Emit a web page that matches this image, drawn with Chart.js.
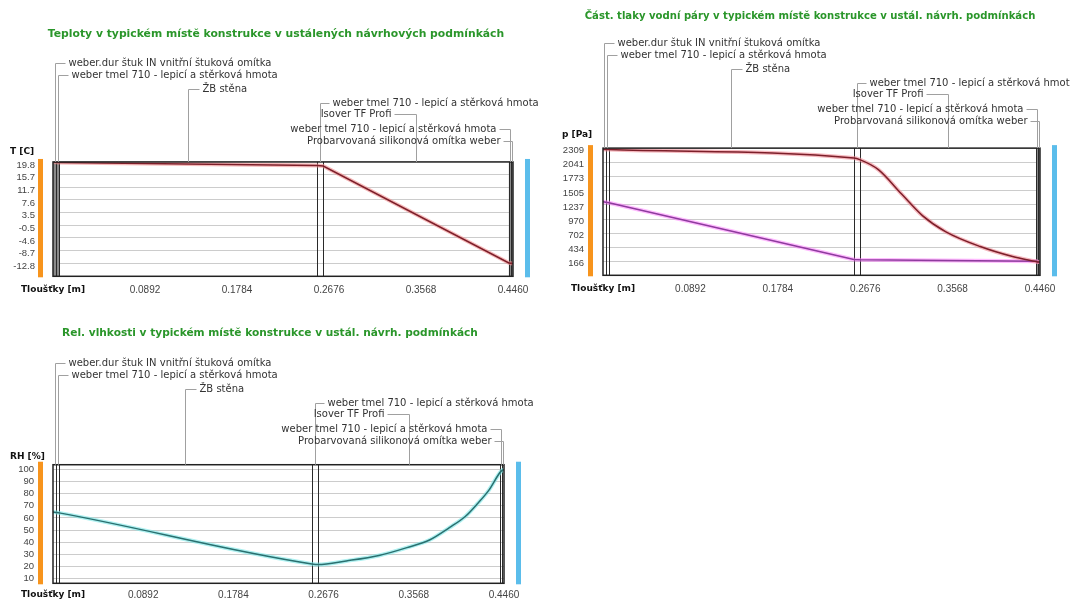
<!DOCTYPE html>
<html><head><meta charset="utf-8">
<script src="https://cdn.jsdelivr.net/npm/chart.js@4/dist/chart.umd.min.js"></script>
<style>
body{margin:0;background:#fff;width:1070px;height:608px;position:relative;overflow:hidden}
.box{position:absolute}
</style></head><body>
<div class="box" style="left:0;top:0"><canvas id="c1" width="540" height="300"></canvas></div>
<div class="box" style="left:540px;top:0"><canvas id="c2" width="530" height="300"></canvas></div>
<div class="box" style="left:0;top:300px"><canvas id="c3" width="540" height="308"></canvas></div>
<script>
// ---------- data ----------
const layerNames = ['weber.dur štuk IN vnitřní štuková omítka','weber tmel 710 - lepicí a stěrková hmota','ŽB stěna','weber tmel 710 - lepicí a stěrková hmota','Isover TF Profi','weber tmel 710 - lepicí a stěrková hmota','Probarvovaná silikonová omítka weber'];
const layerThickness = [0.003, 0.003, 0.25, 0.006, 0.18, 0.002, 0.002];
const xTickValues = [0, 0.0892, 0.1784, 0.2676, 0.3568, 0.4460];
const xTickLabels = ['Tloušťky [m]','0.0892','0.1784','0.2676','0.3568','0.4460'];

const tempTickLabels = ['19.8','15.7','11.7','7.6','3.5','-0.5','-4.6','-8.7','-12.8'];
const tempX = [0, 0.003, 0.006, 0.256, 0.262, 0.442, 0.444, 0.446];
const tempY = [19.8, 19.7, 19.6, 18.7, 18.5, -12.6, -12.7, -12.8];

const presTickLabels = ['2309','2041','1773','1505','1237','970','702','434','166'];
const psatX = [0, 0.003, 0.006, 0.256, 0.262, 0.281, 0.305, 0.326, 0.350, 0.385, 0.418, 0.442, 0.444, 0.446];
const psatY = [2300, 2296, 2292, 2130, 2100, 1910, 1440, 1035, 725, 445, 255, 160, 152, 148];
const pX = [0, 0.003, 0.006, 0.256, 0.262, 0.442, 0.444, 0.446];
const pY = [1300, 1290, 1280, 200, 195, 165, 155, 150];

const rhTickLabels = ['100','90','80','70','60','50','40','30','20','10'];
const rhX = [0, 0.003, 0.006, 0.256, 0.262, 0.29, 0.3224, 0.35, 0.3728, 0.392, 0.4074, 0.42, 0.4311, 0.443, 0.446];
const rhY = [65, 64.6, 64.2, 22, 21.5, 24.5, 29, 35.5, 42, 52, 61, 72, 83, 98.5, 100];

// ---------- layout / style ----------
const annotRowOffsets = [0, 11.5, 26, 39.5, 51, 66, 78];
const annotSides = ['r','r','r','r','l','l','l'];
const annotGaps = [13, 13, 14, 12, 25, 14, 12];

const edges = [0];
layerThickness.forEach(t => edges.push(+(edges[edges.length - 1] + t).toFixed(4)));

function pts(xs, ys) { return xs.map((v, i) => ({ x: v, y: ys[i] })); }

function makeLayerPlugin(o) {
  return {
    id: 'layers',
    afterLayout(chart) { chart.scales.y.left = 0; },
    beforeDatasetsDraw(chart) {
      const { ctx, chartArea: a, scales: { x } } = chart;
      ctx.save();
      ctx.fillStyle = '#8a8a8a';
      o.bands.forEach(([i0, i1]) => {
        const x0 = x.getPixelForValue(edges[i0]), x1 = x.getPixelForValue(edges[i1]);
        ctx.fillRect(x0, a.top, x1 - x0, a.bottom - a.top);
      });
      ctx.strokeStyle = '#2a2a2a'; ctx.lineWidth = 1;
      for (let i = 1; i < edges.length - 1; i++) {
        const px = Math.round(x.getPixelForValue(edges[i])) + 0.5;
        ctx.beginPath(); ctx.moveTo(px, a.top); ctx.lineTo(px, a.bottom); ctx.stroke();
      }
      ctx.restore();
    },
    afterDraw(chart) {
      const { ctx, chartArea: a, scales: { x } } = chart;
      ctx.save();
      ctx.strokeStyle = '#222'; ctx.lineWidth = 1.5;
      ctx.strokeRect(a.left, a.top, a.right - a.left, a.bottom - a.top);
      ctx.fillStyle = '#F7941D'; ctx.fillRect(a.left - 15, a.top - 3, 5, a.bottom - a.top + 4);
      ctx.fillStyle = '#5BBDEB'; ctx.fillRect(a.right + 12, a.top - 3, 5, a.bottom - a.top + 4);
      ctx.fillStyle = '#111'; ctx.font = 'bold 9px "DejaVu Sans"';
      ctx.textBaseline = 'middle'; ctx.textAlign = 'left';
      ctx.fillText(o.yTitle, a.left + o.yTitlePos[0], a.top + o.yTitlePos[1]);
      ctx.font = '10px "DejaVu Sans"';
      layerNames.forEach((name, i) => {
        const mid = (edges[i] + edges[i + 1]) / 2;
        const px = Math.round(x.getPixelForValue(mid)) + 0.5;
        const y = Math.round(o.annotY + annotRowOffsets[i]) + 0.5;
        const gap = annotGaps[i];
        ctx.strokeStyle = '#a0a0a0'; ctx.lineWidth = 1;
        ctx.beginPath(); ctx.moveTo(px, a.top); ctx.lineTo(px, y);
        ctx.fillStyle = '#333';
        if (annotSides[i] === 'r') {
          ctx.lineTo(px + gap - 3, y); ctx.stroke();
          ctx.textAlign = 'left'; ctx.fillText(name, px + gap, y);
        } else {
          ctx.lineTo(px - gap + 3, y); ctx.stroke();
          ctx.textAlign = 'right'; ctx.fillText(name, px - gap, y);
        }
      });
      ctx.restore();
    }
  };
}

function buildChart(id, o) {
  return new Chart(document.getElementById(id), {
    type: 'line',
    data: { datasets: o.datasets },
    options: {
      responsive: false, animation: false,
      elements: { point: { radius: 0 } },
      layout: { padding: { left: o.padL, right: o.padR, top: 0, bottom: 0 } },
      plugins: {
        legend: { display: false }, tooltip: { enabled: false },
        title: { display: true, text: o.title, color: '#2a962a',
          font: { family: 'DejaVu Sans', size: o.titleSize, weight: 'bold' },
          padding: { top: o.titleTop, bottom: o.titleBottom } }
      },
      scales: {
        x: { type: 'linear', min: 0, max: 0.446,
          grid: { display: false, drawTicks: false }, border: { display: false },
          afterBuildTicks: s => { s.ticks = xTickValues.map(v => ({ value: v })); },
          afterFit: s => { s.height = o.xH; },
          ticks: { autoSkip: false, maxRotation: 0, minRotation: 0, padding: o.xPad,
            color: c => c.index === 0 ? '#111' : '#444',
            font: c => c.index === 0 ? { family: 'DejaVu Sans', size: 9, weight: 'bold' } : { family: 'Liberation Sans', size: 10 },
            callback: (v, i) => xTickLabels[i] } },
        y: { type: 'linear', min: o.yMin, max: o.yMax,
          grid: { color: '#cccccc', drawTicks: false }, border: { display: false },
          afterBuildTicks: s => { s.ticks = o.yLabels.map(l => ({ value: parseFloat(l) })); },
          afterFit: s => { s.width = o.yW; },
          ticks: { padding: o.yPad, labelOffset: o.yOff, color: '#444', autoSkip: false,
            font: { family: 'Liberation Sans', size: 9.5 },
            callback: (v, i) => o.yLabels[i] } }
      }
    },
    plugins: [makeLayerPlugin(o)]
  });
}

function lineDs(xs, ys, color, halo, smooth) {
  return [
    { data: pts(xs, ys), borderColor: color, borderWidth: 1.5, order: 1, fill: false,
      tension: 0, cubicInterpolationMode: smooth ? 'monotone' : 'default' },
    { data: pts(xs, ys), borderColor: halo, borderWidth: 4, order: 2, fill: false,
      tension: 0, cubicInterpolationMode: smooth ? 'monotone' : 'default' }
  ];
}

buildChart('c1', {
  title: 'Teploty v typickém místě konstrukce v ustálených návrhových podmínkách', titleSize: 10.8,
  datasets: lineDs(tempX, tempY, '#7d1f2a', 'rgba(240,140,140,0.6)', false),
  padL: 39, yW: 14, yPad: 18, padR: 27, titleTop: 28, titleBottom: 121, xH: 18, xPad: 8,
  yMin: -16.9, yMax: 19.8, yOff: 3, yLabels: tempTickLabels,
  annotY: 63, bands: [[0, 2], [5, 7]], yTitle: 'T [C]', yTitlePos: [-43, -10]
});

buildChart('c2', {
  title: 'Část. tlaky vodní páry v typickém místě konstrukce v ustál. návrh. podmínkách', titleSize: 10.1,
  datasets: [...lineDs(psatX, psatY, '#7d1f2a', 'rgba(240,140,150,0.6)', true),
             ...lineDs(pX, pY, '#8e3b9e', 'rgba(255,120,255,0.5)', false)],
  padL: 40, yW: 23, yPad: 19, padR: 30, titleTop: 10, titleBottom: 126, xH: 21, xPad: 8,
  yMin: -102, yMax: 2320, yOff: 2, yLabels: presTickLabels,
  annotY: 43, bands: [[5, 7]], yTitle: 'p [Pa]', yTitlePos: [-41, -13]
});

buildChart('c3', {
  title: 'Rel. vlhkosti v typickém místě konstrukce v ustál. návrh. podmínkách', titleSize: 10.6,
  datasets: lineDs(rhX, rhY, '#2a7070', 'rgba(120,230,230,0.6)', true),
  padL: 36, yW: 17, yPad: 19, padR: 36, titleTop: 27, titleBottom: 125, xH: 18, xPad: 6,
  yMin: 6, yMax: 104, yOff: 0, yLabels: rhTickLabels,
  annotY: 63, bands: [], yTitle: 'RH [%]', yTitlePos: [-43, -8]
});
</script>
</body></html>
